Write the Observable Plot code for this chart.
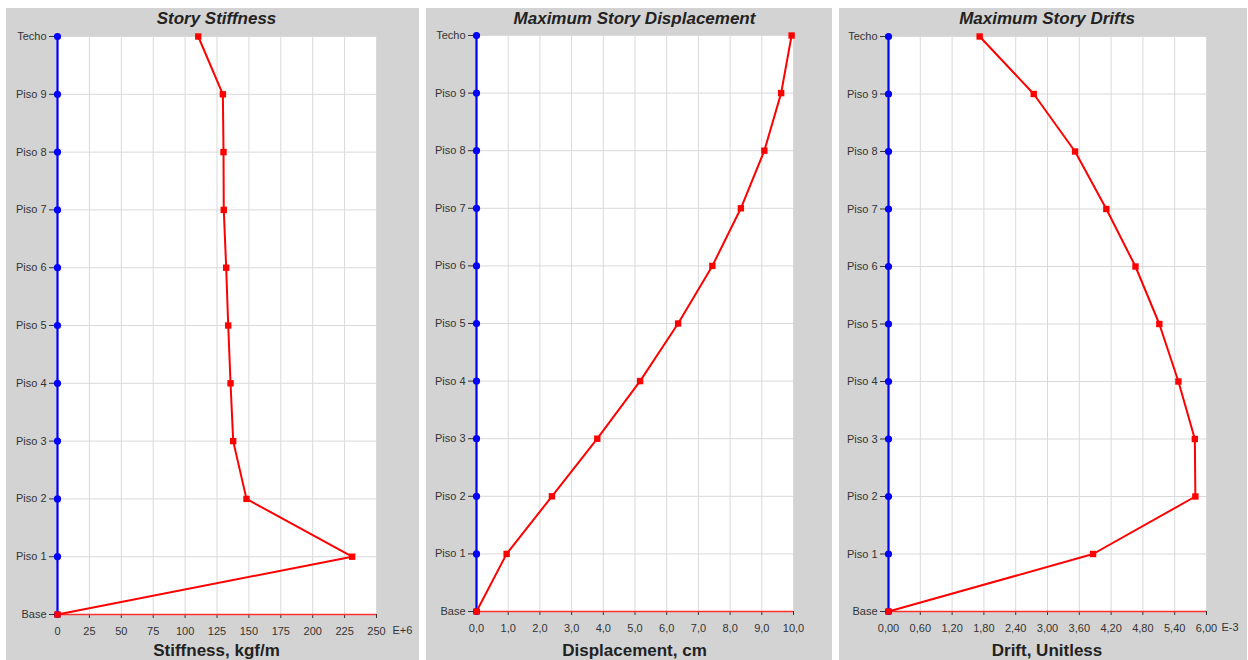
<!DOCTYPE html>
<html>
<head>
<meta charset="utf-8">
<script src="https://cdn.jsdelivr.net/npm/d3@7"></script>
<script src="https://cdn.jsdelivr.net/npm/@observablehq/plot@0.6"></script>
<style>
  html, body { margin: 0; padding: 0; background: #ffffff; }
  body { width: 1248px; height: 660px; position: relative; overflow: hidden; font-family: "Liberation Sans", Arial, sans-serif; }
  .panel { position: absolute; top: 8px; height: 652px; background: #d3d3d3; overflow: hidden; }
  .title { position: absolute; top: 1px; height: 20px; line-height: 20px; text-align: center; font-size: 17px; font-weight: bold; font-style: italic; color: #222; white-space: nowrap; }
  .xlabel { position: absolute; top: 633px; height: 20px; line-height: 20px; text-align: center; font-size: 17px; font-weight: bold; color: #222; white-space: nowrap; }
  .chart { position: absolute; top: 20px; left: 0; line-height: 0; }
</style>
</head>
<body>
<div id="root"></div>
<script>
// ---- data ----
const stories = ["Techo", "Piso 9", "Piso 8", "Piso 7", "Piso 6", "Piso 5", "Piso 4", "Piso 3", "Piso 2", "Piso 1", "Base"];

// Story stiffness, kgf/m (x 1E+6)
const stiffness = [110.3, 129.6, 130.1, 130.3, 132.2, 133.8, 135.6, 137.7, 148.1, 230.9, 0];
const stiffTicks = [0, 25, 50, 75, 100, 125, 150, 175, 200, 225, 250];
const stiffTickLabels = ["0", "25", "50", "75", "100", "125", "150", "175", "200", "225", "250"];

// Maximum story displacement, cm
const displacement = [9.94, 9.61, 9.08, 8.34, 7.44, 6.36, 5.16, 3.81, 2.38, 0.95, 0];
const dispTicks = [0, 1, 2, 3, 4, 5, 6, 7, 8, 9, 10];
const dispTickLabels = ["0,0", "1,0", "2,0", "3,0", "4,0", "5,0", "6,0", "7,0", "8,0", "9,0", "10,0"];

// Maximum story drifts, unitless (x 1E-3)
const drift = [1.72, 2.74, 3.52, 4.11, 4.66, 5.11, 5.47, 5.78, 5.79, 3.86, 0];
const driftTicks = [0, 0.6, 1.2, 1.8, 2.4, 3.0, 3.6, 4.2, 4.8, 5.4, 6.0];
const driftTickLabels = ["0,00", "0,60", "1,20", "1,80", "2,40", "3,00", "3,60", "4,20", "4,80", "5,40", "6,00"];

const panels = [
  { title: "Story Stiffness", xlabel: "Stiffness, kgf/m", values: stiffness, ticks: stiffTicks, labels: stiffTickLabels, suffix: "E+6", suffixDx: 16,
    left: 6, width: 413, marginLeft: 51, marginRight: 43, marginTop: 8, marginBottom: 46 },
  { title: "Maximum Story Displacement", xlabel: "Displacement, cm", values: displacement, ticks: dispTicks, labels: dispTickLabels, suffix: null,
    left: 426, width: 406, marginLeft: 50, marginRight: 39, marginTop: 7, marginBottom: 49 },
  { title: "Maximum Story Drifts", xlabel: "Drift, Unitless", values: drift, ticks: driftTicks, labels: driftTickLabels, suffix: "E-3", suffixDx: 15,
    left: 839, width: 408, marginLeft: 49, marginRight: 41, marginTop: 8, marginBottom: 49 }
];

const root = document.getElementById("root");

for (const p of panels) {
  const data = stories.map((s, i) => ({ story: s, value: p.values[i] }));
  const fmt = d => { const i = p.ticks.findIndex(t => Math.abs(t - d) < 1e-9); return i >= 0 ? p.labels[i] : ""; };
  const tickSize = 4, tickPadding = 9;
  const marks = [
    Plot.frame({ fill: "white", stroke: null }),
    Plot.gridX(p.ticks, { stroke: "#d9d9d9", strokeOpacity: 1, strokeWidth: 1 }),
    Plot.gridY(stories, { stroke: "#d9d9d9", strokeOpacity: 1, strokeWidth: 1 }),
    Plot.axisX({ ticks: p.ticks, tickFormat: fmt, tickSize, tickPadding, label: null, stroke: "#333", fill: "#333" }),
    Plot.axisY({ tickSize: 8, tickPadding: 3, label: null, stroke: "#333", fill: "#333" }),
    Plot.ruleY(["Base"], { stroke: "#ff3030", strokeWidth: 1.5 }),
    Plot.ruleX([0], { stroke: "#0000ff", strokeWidth: 2.2 }),
    Plot.dot(stories, { x: () => 0, y: d => d, fill: "#0000ff", stroke: null, r: 3.6 }),
    Plot.line(data, { x: "value", y: "story", stroke: "#ff0000", strokeWidth: 2 }),
    Plot.dot(data, { x: "value", y: "story", symbol: "square", fill: "#ff0000", stroke: null, r: 3.6 })
  ];
  if (p.suffix) {
    marks.push(Plot.text([p.suffix], {
      x: () => p.ticks[p.ticks.length - 1], frameAnchor: "bottom", text: d => d,
      textAnchor: "start", lineAnchor: "top", dx: p.suffixDx, dy: tickSize + tickPadding - 1,
      fill: "#333", fontSize: 11
    }));
  }
  const chart = Plot.plot({
    width: p.width,
    height: 632,
    marginLeft: p.marginLeft,
    marginRight: p.marginRight,
    marginTop: p.marginTop,
    marginBottom: p.marginBottom,
    style: { background: "transparent", fontFamily: "'Liberation Sans', Arial, sans-serif", fontSize: "11px", color: "#333", overflow: "visible" },
    x: { domain: [p.ticks[0], p.ticks[p.ticks.length - 1]] },
    y: { type: "point", domain: stories, padding: 0, round: false },
    marks
  });

  const panel = document.createElement("div");
  panel.className = "panel";
  panel.style.left = p.left + "px";
  panel.style.width = p.width + "px";

  const plotW = p.width - p.marginLeft - p.marginRight;
  const t = document.createElement("div");
  t.className = "title";
  t.style.left = p.marginLeft + "px";
  t.style.width = plotW + "px";
  t.textContent = p.title;

  const c = document.createElement("div");
  c.className = "chart";
  c.appendChild(chart);

  const xl = document.createElement("div");
  xl.className = "xlabel";
  xl.style.left = p.marginLeft + "px";
  xl.style.width = plotW + "px";
  xl.textContent = p.xlabel;

  panel.appendChild(c);
  panel.appendChild(t);
  panel.appendChild(xl);
  root.appendChild(panel);
}
</script>
</body>
</html>
